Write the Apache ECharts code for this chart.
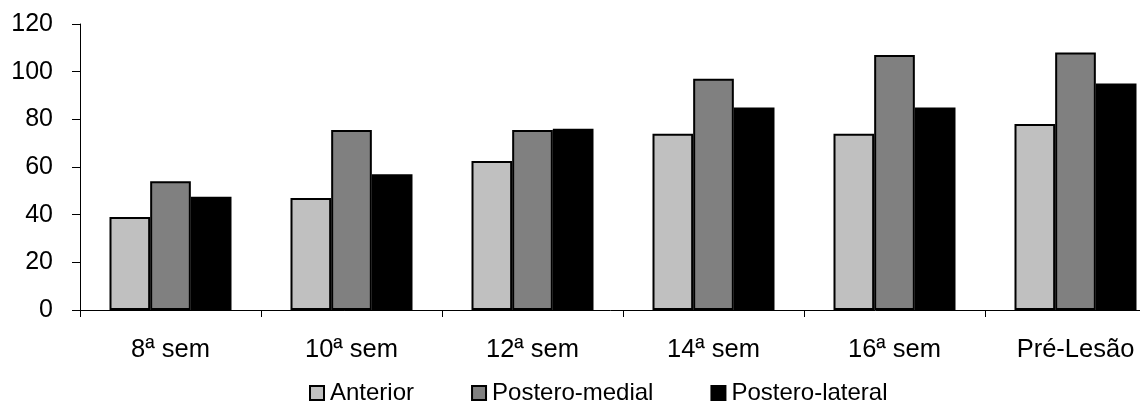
<!DOCTYPE html>
<html>
<head>
<meta charset="utf-8">
<script src="https://cdn.jsdelivr.net/npm/echarts@6/dist/echarts.min.js"></script>
<style>
  html, body { margin: 0; padding: 0; background: #fff; }
  #chart { width: 1140px; height: 401px; }
</style>
</head>
<body>
<div id="chart"></div>
<script>
// Weeks after injury and the pre-injury reference
const categories = ['8ª sem', '10ª sem', '12ª sem', '14ª sem', '16ª sem', 'Pré-Lesão'];
const seriesNames = ['Anterior', 'Postero-medial', 'Postero-lateral'];
const anterior = [39, 47, 62.5, 74, 74, 78];
const posteroMedial = [54, 75.5, 75.5, 97, 107, 108];
const posteroLateral = [47.5, 57, 76, 85, 85, 95];
const yTicks = [0, 20, 40, 60, 80, 100, 120];

const colors = ['#C0C0C0', '#808080', '#000000'];
const font = 'Liberation Sans, Arial, sans-serif';

const chart = echarts.init(document.getElementById('chart'), null, { renderer: 'canvas' });

const values = [anterior, posteroMedial, posteroLateral];

chart.setOption({
  animation: false,
  backgroundColor: '#ffffff',
  // the plot runs slightly past the right edge of the canvas
  grid: { left: 80, top: 24, width: 1086, height: 286, containLabel: false, outerBoundsMode: 'none' },
  legend: {
    left: 309,
    top: 381,
    padding: 0,
    itemWidth: 14,
    itemHeight: 14,
    itemGap: 57,
    icon: 'rect',
    textStyle: { fontFamily: font, fontSize: 24, color: '#000', padding: [0, 0, 0, 1] },
    data: seriesNames.map((n, i) => ({
      name: n,
      itemStyle: { color: colors[i], borderColor: '#000', borderWidth: 2 }
    }))
  },
  xAxis: {
    type: 'category',
    data: categories,
    axisLine: { lineStyle: { color: '#000', width: 1 } },
    axisTick: { show: true, length: 7, lineStyle: { color: '#000' } },
    axisLabel: { fontFamily: font, fontSize: 25.5, color: '#000', margin: 27 }
  },
  yAxis: {
    type: 'value',
    min: yTicks[0],
    max: yTicks[yTicks.length - 1],
    interval: yTicks[1] - yTicks[0],
    splitLine: { show: false },
    axisLine: { show: true, lineStyle: { color: '#000', width: 1 } },
    axisTick: { show: true, length: 8, lineStyle: { color: '#000' } },
    axisLabel: { fontFamily: font, fontSize: 25, color: '#000', margin: 27 }
  },
  series: values.map((v, i) => ({
    name: seriesNames[i],
    type: 'bar',
    data: v,
    barGap: '0%',
    barCategoryGap: '32.6%',
    itemStyle: { color: colors[i], borderColor: '#000', borderWidth: 2 }
  }))
});
</script>
</body>
</html>
